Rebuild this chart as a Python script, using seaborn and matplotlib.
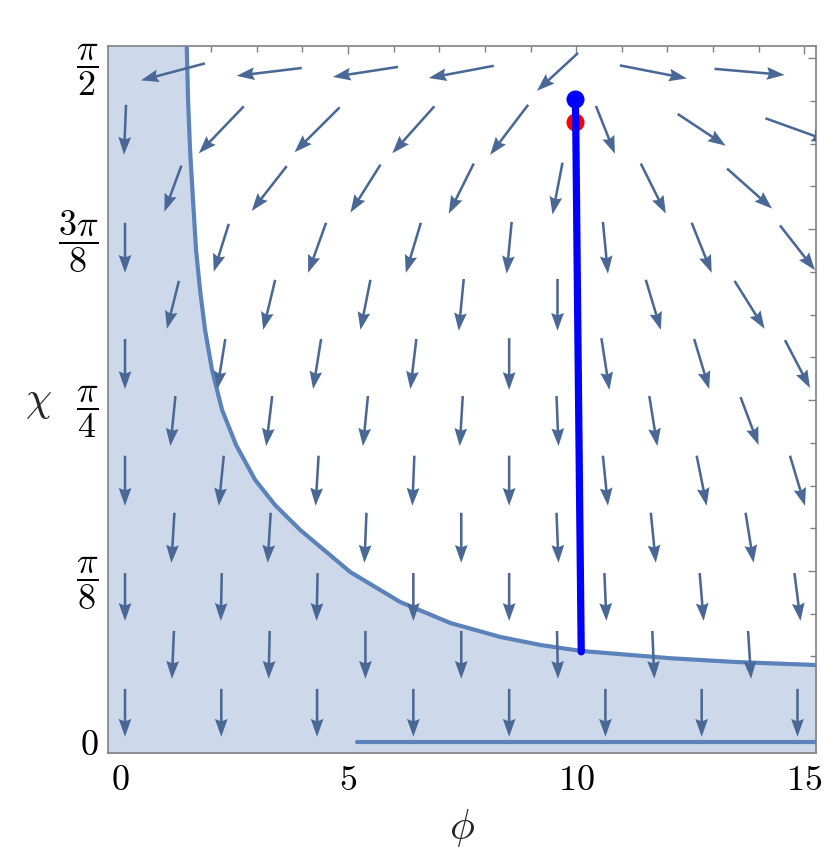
import numpy as np
import pandas as pd
import matplotlib
matplotlib.use("Agg")
import matplotlib.pyplot as plt
from matplotlib.ticker import MultipleLocator, FixedLocator
import seaborn as sns

# ---------------- data ----------------
# boundary curve of the shaded region (phi, chi)
bnd_phi = [1.463, 1.492, 1.536, 1.600, 1.667, 1.755, 1.865, 2.018, 2.238, 2.545,
           2.962, 3.400, 3.949, 5.046, 6.143, 7.240, 8.337, 9.215, 10.114, 12.09,
           13.49, 15.24, 15.40]
bnd_chi = [1.5985, 1.4745, 1.360, 1.245, 1.130, 1.038, 0.946, 0.854, 0.7625, 0.682,
           0.602, 0.544, 0.487, 0.3904, 0.3215, 0.2733, 0.2412, 0.2228, 0.2090, 0.1922,
           0.1837, 0.1768, 0.1765]
# horizontal boundary segment at chi = 0
base_phi = [5.2, 15.3]
base_chi = [0.0, 0.0]

# trajectory
traj_phi = [9.98, 9.99, 10.03, 10.07, 10.11]
traj_chi = [1.477, 1.42, 1.00, 0.60, 0.207]
start_pt = (9.98, 1.477)   # blue dot
end_pt = (9.98, 1.424)     # red dot

# vector field: staggered grid
phi_A = [0.11, 2.22, 4.32, 6.43, 8.53, 10.64, 12.75, 14.85]
phi_B = [1.16, 3.27, 5.38, 7.48, 9.59, 11.69, 13.80]
chi_A = [1.406, 1.135, 0.868, 0.600, 0.333, 0.067]
chi_B = [1.539, 1.271, 1.004, 0.737, 0.469, 0.200]

uA = [[-0.044, -0.987, -0.987, -0.921, -0.834, 0.417, 1.053, 1.404],
      [0.0, -0.329, -0.395, -0.329, -0.110, 0.110, 0.439, 0.768],
      [0.0, -0.176, -0.176, -0.132, 0.0, 0.176, 0.329, 0.548],
      [0.0, -0.110, -0.066, -0.044, 0.0, 0.110, 0.219, 0.329],
      [0.0, -0.022, -0.022, 0.0, 0.0, 0.044, 0.088, 0.132],
      [0.0, 0.0, 0.0, 0.0, 0.0, 0.0, 0.0, 0.0]]
vA = [[-0.115, -0.108, -0.103, -0.108, -0.115, -0.110, -0.073, -0.053],
      [-0.115, -0.110, -0.115, -0.115, -0.119, -0.119, -0.115, -0.103],
      [-0.115, -0.115, -0.115, -0.115, -0.119, -0.119, -0.115, -0.110],
      [-0.115, -0.115, -0.115, -0.115, -0.115, -0.115, -0.115, -0.115],
      [-0.110, -0.110, -0.110, -0.110, -0.110, -0.110, -0.110, -0.110],
      [-0.110, -0.110, -0.110, -0.110, -0.110, -0.110, -0.110, -0.110]]
uB = [[-1.404, -1.426, -1.426, -1.426, -0.900, 1.470, 1.536],
      [-0.373, -0.768, -0.658, -0.548, -0.219, 0.548, 0.987],
      [-0.263, -0.263, -0.219, -0.110, 0.0, 0.329, 0.658],
      [-0.110, -0.132, -0.110, -0.066, 0.044, 0.176, 0.395],
      [-0.066, -0.066, -0.044, 0.0, 0.044, 0.110, 0.176],
      [-0.044, -0.022, 0.0, 0.0, 0.022, 0.044, 0.066]]
vB = [[-0.039, -0.018, -0.023, -0.028, -0.087, -0.030, -0.014],
      [-0.106, -0.103, -0.110, -0.115, -0.119, -0.115, -0.092],
      [-0.110, -0.115, -0.115, -0.119, -0.119, -0.115, -0.110],
      [-0.115, -0.115, -0.115, -0.115, -0.115, -0.115, -0.110],
      [-0.115, -0.115, -0.115, -0.115, -0.115, -0.115, -0.115],
      [-0.110, -0.110, -0.110, -0.110, -0.110, -0.110, -0.110]]

x_ticks = [0, 5, 10, 15]
x_ticklabels = [r"$0$", r"$5$", r"$10$", r"$15$"]
y_ticks = [0, np.pi / 8, np.pi / 4, 3 * np.pi / 8, np.pi / 2]
y_ticklabels = [r"$0$", r"$\dfrac{\pi}{8}$", r"$\dfrac{\pi}{4}$",
                r"$\dfrac{3\pi}{8}$", r"$\dfrac{\pi}{2}$"]

XLIM = (-0.263, 15.245)
YLIM = (-0.026, 1.5985)

# ---------------- styling ----------------
sns.set_theme(style="white")
plt.rcParams["mathtext.fontset"] = "cm"
plt.rcParams["font.family"] = ["DejaVu Serif"]

FILL = "#cdd9ea"
EDGE = "#5b82bb"
ARROW = "#4a6896"
FRAME = "#808080"

fig = plt.figure(figsize=(8.3, 8.58), dpi=100)
ax = fig.add_axes([108 / 830, 1 - 753.3 / 858, 707.5 / 830, 707.3 / 858])
ax.set_facecolor("white")

# shaded region: left of / below the boundary
fill_x = np.r_[XLIM[0], bnd_phi]
fill_top = np.r_[YLIM[1] + 0.1, bnd_chi]
ax.fill_between(fill_x, YLIM[0] - 0.1, fill_top, color=FILL, lw=0, zorder=1)

bdf = pd.DataFrame({"phi": bnd_phi, "chi": bnd_chi})
sns.lineplot(data=bdf, x="phi", y="chi", sort=False, color=EDGE, lw=3.0,
             ax=ax, zorder=3)
basedf = pd.DataFrame({"phi": base_phi, "chi": base_chi})
sns.lineplot(data=basedf, x="phi", y="chi", sort=False, color=EDGE, lw=3.0,
             ax=ax, zorder=3)

# arrows
PX, PY, U, V = [], [], [], []
for j, c in enumerate(chi_A):
    for i, p in enumerate(phi_A):
        PX.append(p); PY.append(c); U.append(uA[j][i]); V.append(vA[j][i])
for j, c in enumerate(chi_B):
    for i, p in enumerate(phi_B):
        PX.append(p); PY.append(c); U.append(uB[j][i]); V.append(vB[j][i])
ax.quiver(PX, PY, U, V, angles="xy", scale_units="xy", scale=1,
          pivot="middle", color=ARROW, width=0.0036, headwidth=5.0,
          headlength=7.0, headaxislength=6.2, zorder=4)

# trajectory
tdf = pd.DataFrame({"phi": traj_phi, "chi": traj_chi})
ax.plot([end_pt[0]], [end_pt[1]], "o", color="#ff0000", ms=13, mec="none", zorder=5)
sns.lineplot(data=tdf, x="phi", y="chi", sort=False, color="#0000ff", lw=5.2,
             ax=ax, zorder=6)
ax.plot([start_pt[0]], [start_pt[1]], "o", color="#0000ff", ms=13, mec="none", zorder=7)

ax.set_xlim(*XLIM)
ax.set_ylim(*YLIM)

ax.xaxis.set_major_locator(FixedLocator(x_ticks))
ax.set_xticklabels(x_ticklabels)
ax.yaxis.set_major_locator(FixedLocator(y_ticks))
ax.set_yticklabels(y_ticklabels)
ax.xaxis.set_minor_locator(MultipleLocator(1))
ax.yaxis.set_minor_locator(MultipleLocator(np.pi / 32))
ax.tick_params(which="both", direction="in", top=True, right=True,
               color=FRAME, width=1.0, labelsize=26, labelcolor="black")
ax.tick_params(which="major", length=6, pad=7)
ax.tick_params(which="minor", length=4.5)

for s in ax.spines.values():
    s.set_color(FRAME)
    s.set_linewidth(1.2)

ax.set_xlabel(r"$\phi$", fontsize=30)
ax.set_ylabel(r"$\chi$", fontsize=30, rotation=0)
ax.xaxis.set_label_coords(0.5, -0.106)
ax.xaxis.label.set_va("center")
ax.yaxis.set_label_coords(-0.099, 0.4995)
ax.yaxis.label.set_va("center")
ax.yaxis.label.set_ha("center")

fig.savefig("out.png", dpi=100)
